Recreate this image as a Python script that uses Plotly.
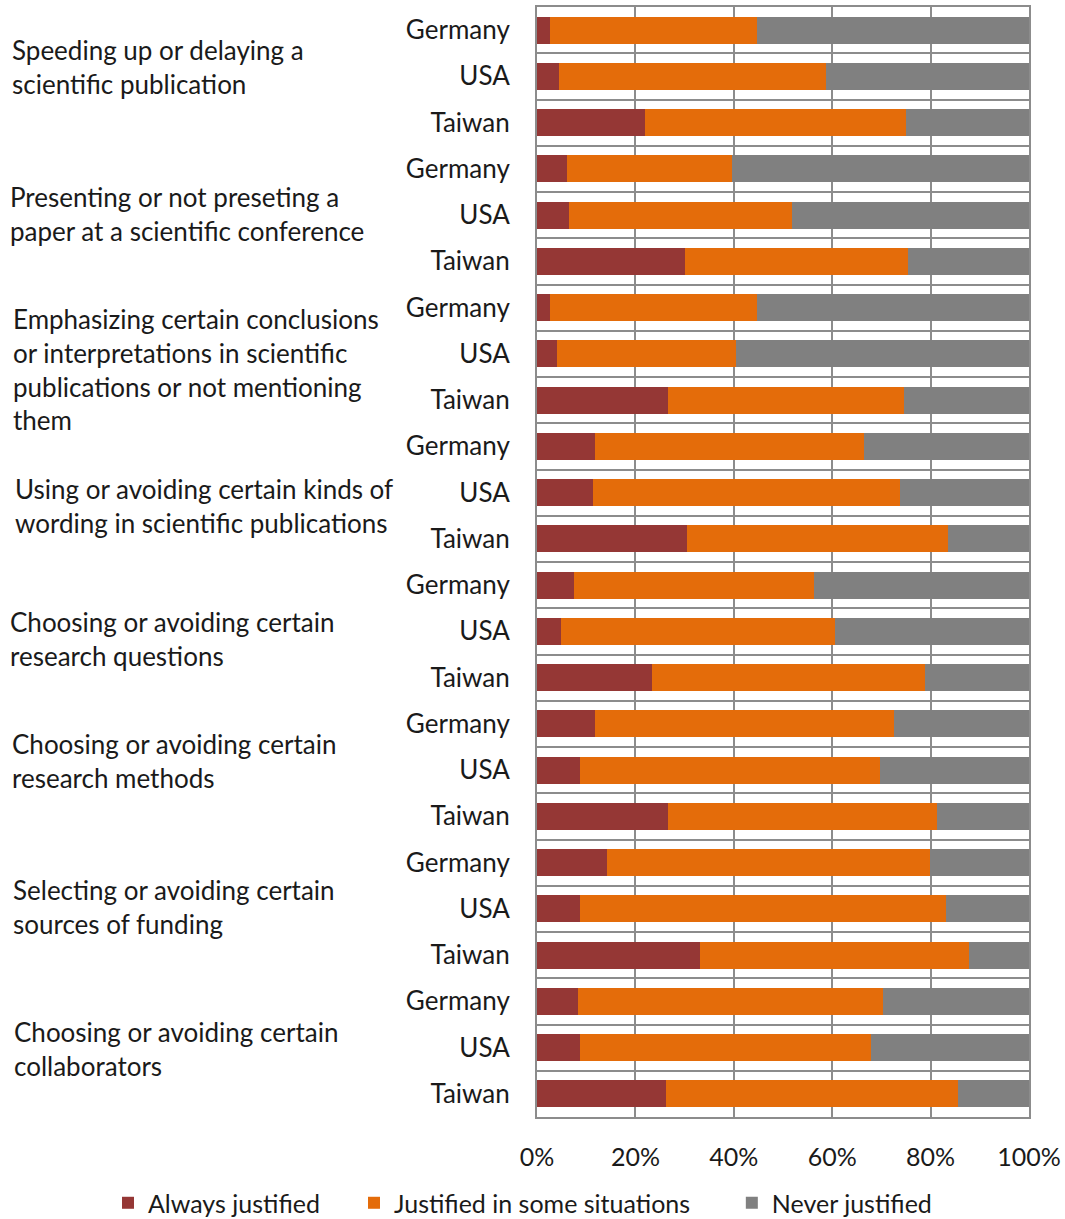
import plotly.graph_objects as go

# Survey responses: share of respondents judging each practice
countries = ["Germany", "USA", "Taiwan"]
practices = [
    "Speeding up or delaying a<br>scientific publication",
    "Presenting or not preseting a<br>paper at a scientific conference",
    "Emphasizing certain conclusions<br>or interpretations in scientific<br>publications or not mentioning<br>them",
    "Using or avoiding certain kinds of<br>wording in scientific publications",
    "Choosing or avoiding certain<br>research questions",
    "Choosing or avoiding certain<br>research methods",
    "Selecting or avoiding certain<br>sources of funding",
    "Choosing or avoiding certain<br>collaborators",
]

# Percentages, ordered practice by practice, Germany / USA / Taiwan
always_justified = [
    2.7, 4.4, 21.9,
    6.1, 6.6, 30.0,
    2.7, 4.0, 26.7,
    11.7, 11.3, 30.5,
    7.5, 4.8, 23.3,
    11.7, 8.7, 26.7,
    14.3, 8.7, 33.1,
    8.3, 8.7, 26.2,
]
some_situations = [
    42.0, 54.3, 53.1,
    33.5, 45.3, 45.4,
    42.0, 36.4, 47.9,
    54.7, 62.4, 53.1,
    48.7, 55.7, 55.6,
    60.8, 61.1, 54.7,
    65.5, 74.4, 54.8,
    62.0, 59.1, 59.4,
]
never_justified = [
    55.3, 41.3, 25.0,
    60.4, 48.1, 24.6,
    55.3, 59.6, 25.4,
    33.6, 26.3, 16.4,
    43.8, 39.5, 21.1,
    27.5, 30.2, 18.6,
    20.2, 16.9, 12.1,
    29.7, 32.2, 14.4,
]
x_ticks = [0, 20, 40, 60, 80, 100]
x_tick_labels = ["0%", "20%", "40%", "60%", "80%", "100%"]

row_labels = [c for _ in practices for c in countries]
rows = list(range(len(row_labels)))

FONT = "Lato"
TEXT = "#1a1a1a"
GRID = "#8c8c8c"

fig = go.Figure()
series = [
    ("Always justified", always_justified, "#953735", "legend"),
    ("Justified in some situations", some_situations, "#E46C0A", "legend2"),
    ("Never justified", never_justified, "#808080", "legend3"),
]
for name, vals, color, leg in series:
    fig.add_trace(go.Bar(
        y=rows, x=vals, name=name, orientation="h", legend=leg,
        marker=dict(color=color, line=dict(width=0)),
    ))

# Practice names to the left of each group of three rows
label_dx = [2, 0, 3, 5, 0, 2, 3, 4]
label_dy = [9, 1, -16, -13, -8, 9, 2, -1]
for i, text in enumerate(practices):
    fig.add_annotation(
        x=-1.0752, xref="paper", y=3 * i + 1, yref="y",
        text=text, showarrow=False, xanchor="left", align="left",
        xshift=label_dx[i], yshift=label_dy[i],
        font=dict(family=FONT, size=26, color=TEXT),
    )


def legend_box(x):
    return dict(
        orientation="h", x=x, xanchor="left", xref="paper",
        y=-0.0775, yanchor="middle", yref="paper",
        font=dict(family=FONT, size=25, color=TEXT),
        itemwidth=30, bgcolor="rgba(0,0,0,0)",
    )


fig.update_layout(
    width=1065, height=1219,
    margin=dict(l=537, r=36, t=7, b=102, autoexpand=False),
    paper_bgcolor="white", plot_bgcolor="white",
    barmode="stack", bargap=0.42,
    font=dict(family=FONT, size=26, color=TEXT),
    showlegend=True,
    legend=legend_box(-0.872),
    legend2=legend_box(-0.372),
    legend3=legend_box(0.396),
    xaxis=dict(
        range=[0, 100], tickvals=x_ticks, ticktext=x_tick_labels,
        showgrid=True, gridcolor=GRID, gridwidth=2,
        showline=True, linecolor=GRID, linewidth=2, mirror=True,
        zeroline=False, ticks="", ticklabelstandoff=17,
        tickfont=dict(family=FONT, size=25, color=TEXT),
    ),
    yaxis=dict(
        range=[23.5, -0.5], tickvals=rows, ticktext=row_labels,
        showgrid=False, zeroline=False,
        showline=True, linecolor=GRID, linewidth=2, mirror=True,
        ticks="", ticklabelstandoff=20,
        tickfont=dict(family=FONT, size=26, color=TEXT),
        minor=dict(tickvals=[r + 0.5 for r in rows[:-1]], showgrid=True,
                   gridcolor=GRID, gridwidth=2, ticks=""),
    ),
)

fig.write_html("out.html")
